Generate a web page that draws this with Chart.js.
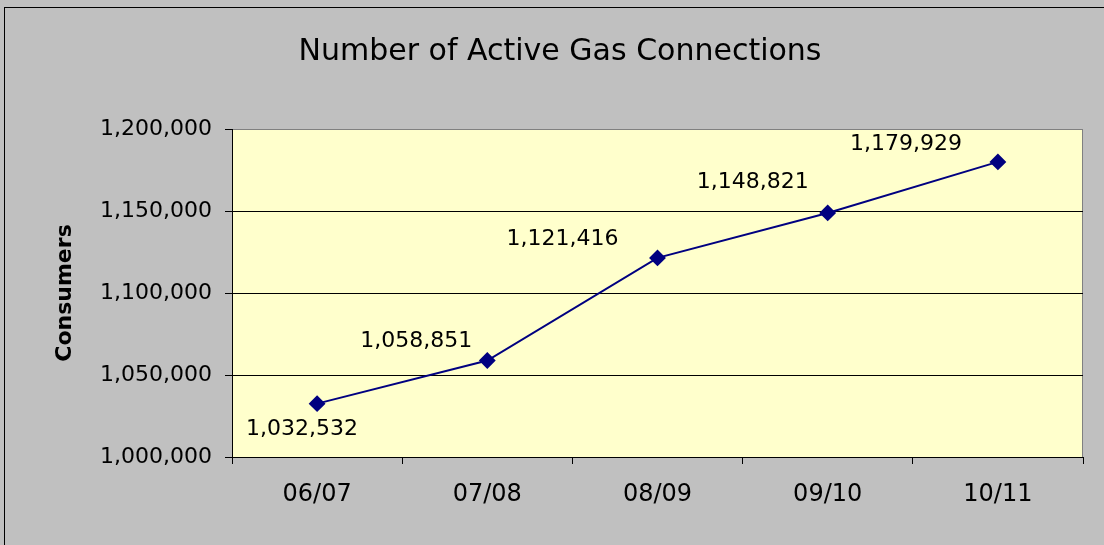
<!DOCTYPE html>
<html lang="en">
<head>
  <meta charset="UTF-8">
  <title>Number of Active Gas Connections</title>
  <script src="https://cdn.jsdelivr.net/npm/chart.js"></script>
  <style>
    body {
      margin: 0;
      background: #c0c0c0;
    }
    #wrap {
      width: 1104px;
      height: 545px;
    }
  </style>
</head>
<body>
<div id="wrap"><canvas id="gasChart"></canvas></div>

<script>
  const years = ['06/07', '07/08', '08/09', '09/10', '10/11'];
  const consumers = [1032532, 1058851, 1121416, 1148821, 1179929];
  const yTicks = [1000000, 1050000, 1100000, 1150000, 1200000];

  // where each value label sits relative to its point (px)
  const labelOffsets = [[-15, 26], [-71, -19], [-95, -19], [-75, -31], [-92, -18]];

  const FONT = "'DejaVu Sans', sans-serif";
  const fmt = v => v.toLocaleString('en-US');

  const chartStyle = {
    id: 'chartStyle',
    beforeDraw(chart) {
      const {ctx, chartArea: a} = chart;
      ctx.save();
      ctx.fillStyle = '#c0c0c0';
      ctx.fillRect(0, 0, chart.width, chart.height);
      ctx.strokeStyle = '#000';
      ctx.lineWidth = 1;
      ctx.strokeRect(4.5, 7.5, chart.width + 10, chart.height + 10);
      ctx.fillStyle = '#ffffcc';
      ctx.fillRect(a.left, a.top, a.right - a.left, a.bottom - a.top);
      ctx.strokeStyle = '#808080';
      ctx.beginPath();
      ctx.moveTo(a.left, a.top + 0.5);
      ctx.lineTo(a.right - 0.5, a.top + 0.5);
      ctx.lineTo(a.right - 0.5, a.bottom);
      ctx.stroke();
      ctx.restore();
    },
    afterDatasetsDraw(chart) {
      const {ctx} = chart;
      const meta = chart.getDatasetMeta(0);
      ctx.save();
      ctx.font = '22px ' + FONT;
      ctx.fillStyle = '#000';
      ctx.textAlign = 'center';
      ctx.textBaseline = 'middle';
      meta.data.forEach((pt, i) => {
        const [dx, dy] = labelOffsets[i];
        ctx.fillText(fmt(consumers[i]), pt.x + dx, pt.y + dy);
      });
      ctx.restore();
    }
  };

  const ctx = document.getElementById('gasChart').getContext('2d');
  const gasChart = new Chart(ctx, {
    type: 'line',
    data: {
      labels: years,
      datasets: [{
        data: consumers,
        borderColor: '#000080',
        backgroundColor: '#000080',
        borderWidth: 2,
        pointStyle: 'rectRot',
        pointRadius: 7,
        pointHoverRadius: 7,
        fill: false,
        tension: 0
      }]
    },
    options: {
      responsive: true,
      maintainAspectRatio: false,
      animation: false,
      layout: {
        padding: {left: 37, right: 21, top: 0, bottom: 0}
      },
      plugins: {
        legend: {display: false},
        tooltip: {enabled: false},
        title: {
          display: true,
          text: 'Number of Active Gas Connections',
          color: '#000',
          font: {family: FONT, size: 30, weight: 'normal'},
          padding: {top: 34, bottom: 59}
        }
      },
      scales: {
        x: {
          offset: true,
          grid: {
            offset: true,
            drawOnChartArea: false,
            drawTicks: true,
            tickLength: 7,
            color: '#000'
          },
          border: {color: '#000', width: 1},
          ticks: {
            color: '#000',
            font: {family: FONT, size: 24},
            padding: 16
          },
          afterFit(scale) { scale.height = 88; }
        },
        y: {
          min: 1000000,
          max: 1200000,
          afterBuildTicks(scale) {
            scale.ticks = yTicks.map(v => ({value: v}));
          },
          grid: {
            color: c => c.tick && c.tick.value === 1200000 ? '#808080' : '#000',
            tickColor: '#000',
            tickLength: 7,
            lineWidth: 1
          },
          border: {color: '#000', width: 1},
          ticks: {
            color: '#000',
            font: {family: FONT, size: 22},
            padding: 13,
            callback: v => fmt(v)
          },
          title: {
            display: true,
            text: 'Consumers',
            color: '#000',
            font: {family: FONT, size: 22, weight: 'bold'},
            padding: {top: 15, bottom: 0}
          },
          afterFit(scale) { scale.width = 195; }
        }
      }
    },
    plugins: [chartStyle]
  });
</script>
</body>
</html>
